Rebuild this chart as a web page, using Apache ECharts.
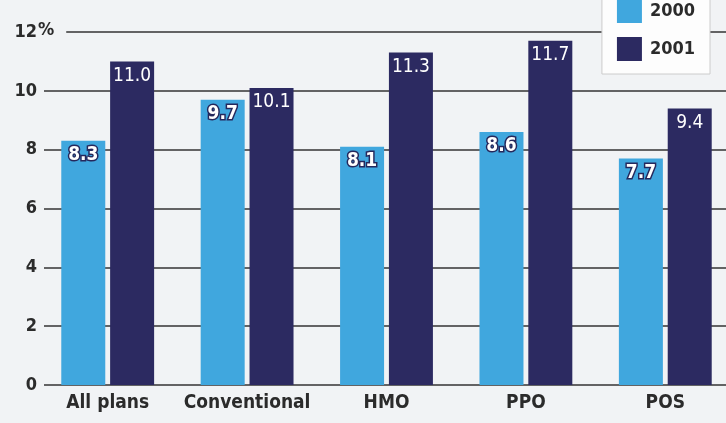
<!DOCTYPE html>
<html>
<head>
<meta charset="utf-8">
<script src="https://cdn.jsdelivr.net/npm/echarts@6/dist/echarts.min.js"></script>
<style>
  html, body { margin: 0; padding: 0; background: #f1f3f5; overflow: hidden; }
  /* a little wider than the window: the last column runs off the right edge */
  #main { width: 736px; height: 423px; }
</style>
</head>
<body>
<div id="main"></div>
<script>
// plan types and cost increase (%) by year
var plans = ['All plans', 'Conventional', 'HMO', 'PPO', 'POS']
var values2000 = [8.3, 9.7, 8.1, 8.6, 7.7]
var values2001 = [11.0, 10.1, 11.3, 11.7, 9.4]
var yTicks = [0, 2, 4, 6, 8, 10, 12]

var font = '"DejaVu Sans Condensed", "DejaVu Sans", sans-serif'
var ink = '#2b2b2b'

var chart = echarts.init(document.getElementById('main'))

var option = {
  backgroundColor: '#f1f3f5',
  animation: false,
  // grid 0: rules + y labels, grid 1: the bars
  grid: [
    { left: 44, right: 0, top: 32, bottom: 38 },
    { left: 38, right: 1, top: 32, bottom: 38 }
  ],
  legend: {
    orient: 'vertical',
    right: 26,
    top: -11,
    padding: [10, 15, 13, 15],
    itemWidth: 25,
    itemHeight: 24,
    itemGap: 14,
    backgroundColor: '#fdfdfd',
    borderColor: '#cccccc',
    borderWidth: 1,
    icon: 'rect',
    textStyle: {
      fontFamily: font,
      fontWeight: 'bold',
      fontSize: 18,
      color: ink,
      padding: [0, 0, 0, 3]
    },
    data: ['2000', '2001']
  },
  xAxis: [
    {
      gridIndex: 0,
      type: 'category',
      data: plans,
      show: false
    },
    {
      gridIndex: 1,
      type: 'category',
      data: plans,
      axisLine: { show: false },
      axisTick: { show: false },
      axisLabel: {
        interval: 0,
        margin: 9,
        fontFamily: font,
        fontWeight: 'bold',
        fontSize: 19,
        color: ink
      }
    }
  ],
  yAxis: [
    {
      gridIndex: 0,
      type: 'value',
      min: 0,
      max: 12,
      interval: 2,
      axisLine: { show: false },
      axisTick: { show: false },
      axisLabel: {
        margin: 7,
        fontFamily: font,
        fontWeight: 'bold',
        fontSize: 18,
        color: ink,
        formatter: function (v) {
          return yTicks.indexOf(v) >= 0 ? String(v) : ''
        }
      },
      splitLine: {
        lineStyle: { color: '#333333', width: 1.6 }
      }
    },
    {
      gridIndex: 1,
      type: 'value',
      min: 0,
      max: 12,
      interval: 2,
      show: false,
      splitLine: { show: false }
    }
  ],
  series: [
    {
      name: '2000',
      type: 'bar',
      xAxisIndex: 1,
      yAxisIndex: 1,
      data: values2000,
      barWidth: 44,
      barGap: '11%',
      itemStyle: { color: '#40a7de' },
      label: {
        show: true,
        position: 'insideTop',
        distance: 5,
        fontFamily: font,
        fontWeight: 'bold',
        fontSize: 19,
        color: '#ffffff',
        textBorderColor: '#25285c',
        textBorderWidth: 3,
        formatter: function (p) { return p.value.toFixed(1) }
      }
    },
    {
      name: '2001',
      type: 'bar',
      xAxisIndex: 1,
      yAxisIndex: 1,
      data: values2001,
      barWidth: 44,
      itemStyle: { color: '#2c2a61' },
      label: {
        show: true,
        position: 'insideTop',
        distance: 5,
        fontFamily: font,
        fontSize: 19,
        color: '#ffffff',
        formatter: function (p) { return p.value.toFixed(1) }
      }
    }
  ]
}

chart.setOption(option)

// hanging "%" after the top tick label
var topY = chart.convertToPixel({ yAxisIndex: 0 }, 12)
chart.setOption({
  graphic: [{
    type: 'text',
    left: 37,
    top: topY - 11,
    z: 10,
    style: {
      text: '%',
      fontFamily: font,
      fontWeight: 'bold',
      fontSize: 18,
      fill: ink,
      backgroundColor: '#f1f3f5',
      padding: [0, 12, 0, 1]
    }
  }]
})
</script>
</body>
</html>
